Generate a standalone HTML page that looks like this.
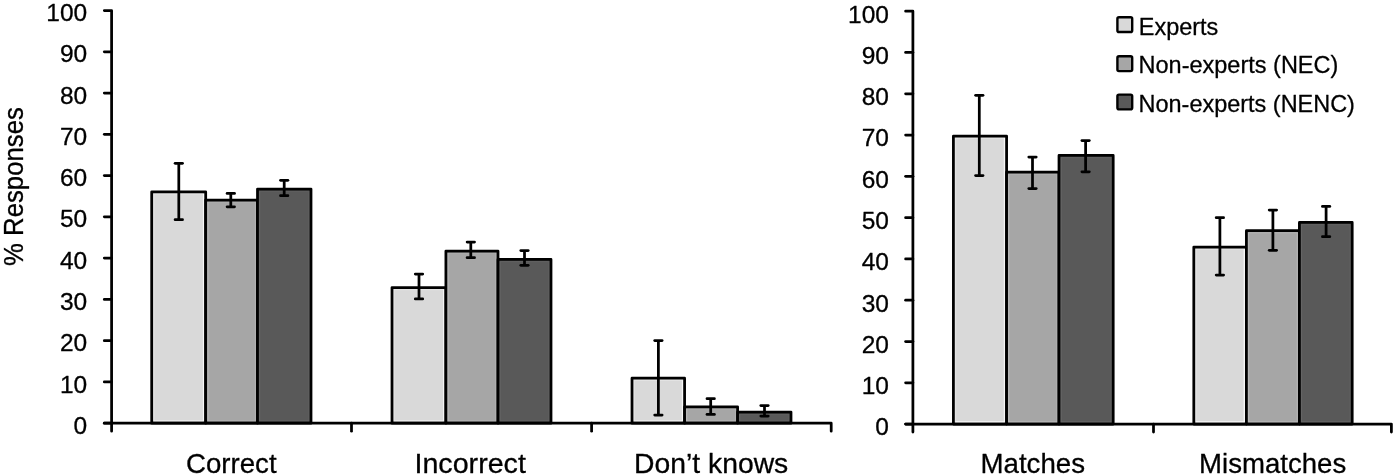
<!DOCTYPE html>
<html><head><meta charset="utf-8"><style>
html,body{margin:0;padding:0;background:#fff;}
svg{display:block;will-change:transform;filter:blur(0.45px);}
text{font-family:"Liberation Sans",sans-serif;fill:#000;stroke:#000;stroke-width:0.3px;stroke-linejoin:round;}
</style></head><body>
<svg width="1395" height="476" viewBox="0 0 1395 476">
<rect x="151.70" y="191.80" width="54.00" height="231.40" fill="#d9d9d9"/>
<line x1="153.77" y1="193.88" x2="203.62" y2="193.88" stroke="#e3e3e3" stroke-width="1.4"/>
<line x1="153.77" y1="193.88" x2="153.77" y2="421.12" stroke="#e3e3e3" stroke-width="1.4"/>
<line x1="203.62" y1="193.88" x2="203.62" y2="421.12" stroke="#f7f7f7" stroke-width="1.4"/>
<line x1="153.77" y1="421.12" x2="203.62" y2="421.12" stroke="#f7f7f7" stroke-width="1.4"/>
<rect x="151.70" y="191.80" width="54.00" height="231.40" fill="none" stroke="#000" stroke-width="2.75" stroke-linejoin="round"/>
<rect x="205.70" y="200.00" width="51.80" height="223.20" fill="#a6a6a6"/>
<line x1="207.77" y1="202.07" x2="255.43" y2="202.07" stroke="#adadad" stroke-width="1.4"/>
<line x1="207.77" y1="202.07" x2="207.77" y2="421.12" stroke="#b6b6b6" stroke-width="1.4"/>
<line x1="255.43" y1="202.07" x2="255.43" y2="421.12" stroke="#b0b0b0" stroke-width="1.4"/>
<line x1="207.77" y1="421.12" x2="255.43" y2="421.12" stroke="#b6b6b6" stroke-width="1.4"/>
<rect x="205.70" y="200.00" width="51.80" height="223.20" fill="none" stroke="#000" stroke-width="2.75" stroke-linejoin="round"/>
<rect x="257.50" y="189.00" width="53.50" height="234.20" fill="#595959"/>
<line x1="259.57" y1="191.07" x2="308.93" y2="191.07" stroke="#606060" stroke-width="1.4"/>
<line x1="259.57" y1="191.07" x2="259.57" y2="421.12" stroke="#646464" stroke-width="1.4"/>
<line x1="308.93" y1="191.07" x2="308.93" y2="421.12" stroke="#5f5f5f" stroke-width="1.4"/>
<line x1="259.57" y1="421.12" x2="308.93" y2="421.12" stroke="#666666" stroke-width="1.4"/>
<rect x="257.50" y="189.00" width="53.50" height="234.20" fill="none" stroke="#000" stroke-width="2.75" stroke-linejoin="round"/>
<line x1="178.80" y1="163.30" x2="178.80" y2="219.70" stroke="#000" stroke-width="2.75" stroke-linecap="butt"/>
<line x1="175.10" y1="163.30" x2="182.50" y2="163.30" stroke="#000" stroke-width="2.75" stroke-linecap="round"/>
<line x1="175.10" y1="219.70" x2="182.50" y2="219.70" stroke="#000" stroke-width="2.75" stroke-linecap="round"/>
<line x1="230.80" y1="193.40" x2="230.80" y2="206.80" stroke="#000" stroke-width="2.75" stroke-linecap="butt"/>
<line x1="227.10" y1="193.40" x2="234.50" y2="193.40" stroke="#000" stroke-width="2.75" stroke-linecap="round"/>
<line x1="227.10" y1="206.80" x2="234.50" y2="206.80" stroke="#000" stroke-width="2.75" stroke-linecap="round"/>
<line x1="284.20" y1="180.30" x2="284.20" y2="195.70" stroke="#000" stroke-width="2.75" stroke-linecap="butt"/>
<line x1="280.50" y1="180.30" x2="287.90" y2="180.30" stroke="#000" stroke-width="2.75" stroke-linecap="round"/>
<line x1="280.50" y1="195.70" x2="287.90" y2="195.70" stroke="#000" stroke-width="2.75" stroke-linecap="round"/>
<rect x="392.00" y="287.50" width="53.90" height="135.70" fill="#d9d9d9"/>
<line x1="394.07" y1="289.57" x2="443.82" y2="289.57" stroke="#e3e3e3" stroke-width="1.4"/>
<line x1="394.07" y1="289.57" x2="394.07" y2="421.12" stroke="#e3e3e3" stroke-width="1.4"/>
<line x1="443.82" y1="289.57" x2="443.82" y2="421.12" stroke="#f7f7f7" stroke-width="1.4"/>
<line x1="394.07" y1="421.12" x2="443.82" y2="421.12" stroke="#f7f7f7" stroke-width="1.4"/>
<rect x="392.00" y="287.50" width="53.90" height="135.70" fill="none" stroke="#000" stroke-width="2.75" stroke-linejoin="round"/>
<rect x="445.90" y="251.00" width="52.10" height="172.20" fill="#a6a6a6"/>
<line x1="447.97" y1="253.07" x2="495.93" y2="253.07" stroke="#adadad" stroke-width="1.4"/>
<line x1="447.97" y1="253.07" x2="447.97" y2="421.12" stroke="#b6b6b6" stroke-width="1.4"/>
<line x1="495.93" y1="253.07" x2="495.93" y2="421.12" stroke="#b0b0b0" stroke-width="1.4"/>
<line x1="447.97" y1="421.12" x2="495.93" y2="421.12" stroke="#b6b6b6" stroke-width="1.4"/>
<rect x="445.90" y="251.00" width="52.10" height="172.20" fill="none" stroke="#000" stroke-width="2.75" stroke-linejoin="round"/>
<rect x="498.00" y="259.40" width="53.00" height="163.80" fill="#595959"/>
<line x1="500.07" y1="261.47" x2="548.92" y2="261.47" stroke="#606060" stroke-width="1.4"/>
<line x1="500.07" y1="261.47" x2="500.07" y2="421.12" stroke="#646464" stroke-width="1.4"/>
<line x1="548.92" y1="261.47" x2="548.92" y2="421.12" stroke="#5f5f5f" stroke-width="1.4"/>
<line x1="500.07" y1="421.12" x2="548.92" y2="421.12" stroke="#666666" stroke-width="1.4"/>
<rect x="498.00" y="259.40" width="53.00" height="163.80" fill="none" stroke="#000" stroke-width="2.75" stroke-linejoin="round"/>
<line x1="419.00" y1="274.00" x2="419.00" y2="298.90" stroke="#000" stroke-width="2.75" stroke-linecap="butt"/>
<line x1="415.30" y1="274.00" x2="422.70" y2="274.00" stroke="#000" stroke-width="2.75" stroke-linecap="round"/>
<line x1="415.30" y1="298.90" x2="422.70" y2="298.90" stroke="#000" stroke-width="2.75" stroke-linecap="round"/>
<line x1="470.80" y1="242.10" x2="470.80" y2="257.70" stroke="#000" stroke-width="2.75" stroke-linecap="butt"/>
<line x1="467.10" y1="242.10" x2="474.50" y2="242.10" stroke="#000" stroke-width="2.75" stroke-linecap="round"/>
<line x1="467.10" y1="257.70" x2="474.50" y2="257.70" stroke="#000" stroke-width="2.75" stroke-linecap="round"/>
<line x1="524.50" y1="250.50" x2="524.50" y2="265.30" stroke="#000" stroke-width="2.75" stroke-linecap="butt"/>
<line x1="520.80" y1="250.50" x2="528.20" y2="250.50" stroke="#000" stroke-width="2.75" stroke-linecap="round"/>
<line x1="520.80" y1="265.30" x2="528.20" y2="265.30" stroke="#000" stroke-width="2.75" stroke-linecap="round"/>
<rect x="632.00" y="378.20" width="52.60" height="45.00" fill="#d9d9d9"/>
<line x1="634.08" y1="380.27" x2="682.52" y2="380.27" stroke="#e3e3e3" stroke-width="1.4"/>
<line x1="634.08" y1="380.27" x2="634.08" y2="421.12" stroke="#e3e3e3" stroke-width="1.4"/>
<line x1="682.52" y1="380.27" x2="682.52" y2="421.12" stroke="#f7f7f7" stroke-width="1.4"/>
<line x1="634.08" y1="421.12" x2="682.52" y2="421.12" stroke="#f7f7f7" stroke-width="1.4"/>
<rect x="632.00" y="378.20" width="52.60" height="45.00" fill="none" stroke="#000" stroke-width="2.75" stroke-linejoin="round"/>
<rect x="684.60" y="406.80" width="53.00" height="16.40" fill="#a6a6a6"/>
<line x1="686.68" y1="408.88" x2="735.52" y2="408.88" stroke="#adadad" stroke-width="1.4"/>
<line x1="686.68" y1="408.88" x2="686.68" y2="421.12" stroke="#b6b6b6" stroke-width="1.4"/>
<line x1="735.52" y1="408.88" x2="735.52" y2="421.12" stroke="#b0b0b0" stroke-width="1.4"/>
<line x1="686.68" y1="421.12" x2="735.52" y2="421.12" stroke="#b6b6b6" stroke-width="1.4"/>
<rect x="684.60" y="406.80" width="53.00" height="16.40" fill="none" stroke="#000" stroke-width="2.75" stroke-linejoin="round"/>
<rect x="737.60" y="412.00" width="53.40" height="11.20" fill="#595959"/>
<line x1="739.68" y1="414.07" x2="788.92" y2="414.07" stroke="#606060" stroke-width="1.4"/>
<line x1="739.68" y1="414.07" x2="739.68" y2="421.12" stroke="#646464" stroke-width="1.4"/>
<line x1="788.92" y1="414.07" x2="788.92" y2="421.12" stroke="#5f5f5f" stroke-width="1.4"/>
<line x1="739.68" y1="421.12" x2="788.92" y2="421.12" stroke="#666666" stroke-width="1.4"/>
<rect x="737.60" y="412.00" width="53.40" height="11.20" fill="none" stroke="#000" stroke-width="2.75" stroke-linejoin="round"/>
<line x1="658.40" y1="340.50" x2="658.40" y2="415.10" stroke="#000" stroke-width="2.75" stroke-linecap="butt"/>
<line x1="654.70" y1="340.50" x2="662.10" y2="340.50" stroke="#000" stroke-width="2.75" stroke-linecap="round"/>
<line x1="654.70" y1="415.10" x2="662.10" y2="415.10" stroke="#000" stroke-width="2.75" stroke-linecap="round"/>
<line x1="710.70" y1="398.70" x2="710.70" y2="414.40" stroke="#000" stroke-width="2.75" stroke-linecap="butt"/>
<line x1="707.00" y1="398.70" x2="714.40" y2="398.70" stroke="#000" stroke-width="2.75" stroke-linecap="round"/>
<line x1="707.00" y1="414.40" x2="714.40" y2="414.40" stroke="#000" stroke-width="2.75" stroke-linecap="round"/>
<line x1="764.50" y1="405.60" x2="764.50" y2="416.10" stroke="#000" stroke-width="2.75" stroke-linecap="butt"/>
<line x1="760.80" y1="405.60" x2="768.20" y2="405.60" stroke="#000" stroke-width="2.75" stroke-linecap="round"/>
<line x1="760.80" y1="416.10" x2="768.20" y2="416.10" stroke="#000" stroke-width="2.75" stroke-linecap="round"/>
<rect x="953.40" y="136.00" width="53.20" height="288.10" fill="#d9d9d9"/>
<line x1="955.48" y1="138.07" x2="1004.52" y2="138.07" stroke="#e3e3e3" stroke-width="1.4"/>
<line x1="955.48" y1="138.07" x2="955.48" y2="422.03" stroke="#e3e3e3" stroke-width="1.4"/>
<line x1="1004.52" y1="138.07" x2="1004.52" y2="422.03" stroke="#f7f7f7" stroke-width="1.4"/>
<line x1="955.48" y1="422.03" x2="1004.52" y2="422.03" stroke="#f7f7f7" stroke-width="1.4"/>
<rect x="953.40" y="136.00" width="53.20" height="288.10" fill="none" stroke="#000" stroke-width="2.75" stroke-linejoin="round"/>
<rect x="1006.60" y="172.20" width="52.40" height="251.90" fill="#a6a6a6"/>
<line x1="1008.68" y1="174.27" x2="1056.92" y2="174.27" stroke="#adadad" stroke-width="1.4"/>
<line x1="1008.68" y1="174.27" x2="1008.68" y2="422.03" stroke="#b6b6b6" stroke-width="1.4"/>
<line x1="1056.92" y1="174.27" x2="1056.92" y2="422.03" stroke="#b0b0b0" stroke-width="1.4"/>
<line x1="1008.68" y1="422.03" x2="1056.92" y2="422.03" stroke="#b6b6b6" stroke-width="1.4"/>
<rect x="1006.60" y="172.20" width="52.40" height="251.90" fill="none" stroke="#000" stroke-width="2.75" stroke-linejoin="round"/>
<rect x="1059.00" y="155.40" width="54.20" height="268.70" fill="#595959"/>
<line x1="1061.08" y1="157.47" x2="1111.12" y2="157.47" stroke="#606060" stroke-width="1.4"/>
<line x1="1061.08" y1="157.47" x2="1061.08" y2="422.03" stroke="#646464" stroke-width="1.4"/>
<line x1="1111.12" y1="157.47" x2="1111.12" y2="422.03" stroke="#5f5f5f" stroke-width="1.4"/>
<line x1="1061.08" y1="422.03" x2="1111.12" y2="422.03" stroke="#666666" stroke-width="1.4"/>
<rect x="1059.00" y="155.40" width="54.20" height="268.70" fill="none" stroke="#000" stroke-width="2.75" stroke-linejoin="round"/>
<line x1="979.30" y1="95.30" x2="979.30" y2="175.60" stroke="#000" stroke-width="2.75" stroke-linecap="butt"/>
<line x1="975.60" y1="95.30" x2="983.00" y2="95.30" stroke="#000" stroke-width="2.75" stroke-linecap="round"/>
<line x1="975.60" y1="175.60" x2="983.00" y2="175.60" stroke="#000" stroke-width="2.75" stroke-linecap="round"/>
<line x1="1032.50" y1="157.10" x2="1032.50" y2="188.50" stroke="#000" stroke-width="2.75" stroke-linecap="butt"/>
<line x1="1028.80" y1="157.10" x2="1036.20" y2="157.10" stroke="#000" stroke-width="2.75" stroke-linecap="round"/>
<line x1="1028.80" y1="188.50" x2="1036.20" y2="188.50" stroke="#000" stroke-width="2.75" stroke-linecap="round"/>
<line x1="1085.60" y1="140.50" x2="1085.60" y2="171.80" stroke="#000" stroke-width="2.75" stroke-linecap="butt"/>
<line x1="1081.90" y1="140.50" x2="1089.30" y2="140.50" stroke="#000" stroke-width="2.75" stroke-linecap="round"/>
<line x1="1081.90" y1="171.80" x2="1089.30" y2="171.80" stroke="#000" stroke-width="2.75" stroke-linecap="round"/>
<rect x="1193.80" y="247.00" width="52.60" height="177.10" fill="#d9d9d9"/>
<line x1="1195.88" y1="249.07" x2="1244.33" y2="249.07" stroke="#e3e3e3" stroke-width="1.4"/>
<line x1="1195.88" y1="249.07" x2="1195.88" y2="422.03" stroke="#e3e3e3" stroke-width="1.4"/>
<line x1="1244.33" y1="249.07" x2="1244.33" y2="422.03" stroke="#f7f7f7" stroke-width="1.4"/>
<line x1="1195.88" y1="422.03" x2="1244.33" y2="422.03" stroke="#f7f7f7" stroke-width="1.4"/>
<rect x="1193.80" y="247.00" width="52.60" height="177.10" fill="none" stroke="#000" stroke-width="2.75" stroke-linejoin="round"/>
<rect x="1246.40" y="230.70" width="53.00" height="193.40" fill="#a6a6a6"/>
<line x1="1248.48" y1="232.77" x2="1297.33" y2="232.77" stroke="#adadad" stroke-width="1.4"/>
<line x1="1248.48" y1="232.77" x2="1248.48" y2="422.03" stroke="#b6b6b6" stroke-width="1.4"/>
<line x1="1297.33" y1="232.77" x2="1297.33" y2="422.03" stroke="#b0b0b0" stroke-width="1.4"/>
<line x1="1248.48" y1="422.03" x2="1297.33" y2="422.03" stroke="#b6b6b6" stroke-width="1.4"/>
<rect x="1246.40" y="230.70" width="53.00" height="193.40" fill="none" stroke="#000" stroke-width="2.75" stroke-linejoin="round"/>
<rect x="1299.40" y="222.40" width="52.80" height="201.70" fill="#595959"/>
<line x1="1301.48" y1="224.47" x2="1350.12" y2="224.47" stroke="#606060" stroke-width="1.4"/>
<line x1="1301.48" y1="224.47" x2="1301.48" y2="422.03" stroke="#646464" stroke-width="1.4"/>
<line x1="1350.12" y1="224.47" x2="1350.12" y2="422.03" stroke="#5f5f5f" stroke-width="1.4"/>
<line x1="1301.48" y1="422.03" x2="1350.12" y2="422.03" stroke="#666666" stroke-width="1.4"/>
<rect x="1299.40" y="222.40" width="52.80" height="201.70" fill="none" stroke="#000" stroke-width="2.75" stroke-linejoin="round"/>
<line x1="1219.90" y1="217.70" x2="1219.90" y2="275.10" stroke="#000" stroke-width="2.75" stroke-linecap="butt"/>
<line x1="1216.20" y1="217.70" x2="1223.60" y2="217.70" stroke="#000" stroke-width="2.75" stroke-linecap="round"/>
<line x1="1216.20" y1="275.10" x2="1223.60" y2="275.10" stroke="#000" stroke-width="2.75" stroke-linecap="round"/>
<line x1="1272.90" y1="210.00" x2="1272.90" y2="250.30" stroke="#000" stroke-width="2.75" stroke-linecap="butt"/>
<line x1="1269.20" y1="210.00" x2="1276.60" y2="210.00" stroke="#000" stroke-width="2.75" stroke-linecap="round"/>
<line x1="1269.20" y1="250.30" x2="1276.60" y2="250.30" stroke="#000" stroke-width="2.75" stroke-linecap="round"/>
<line x1="1326.10" y1="206.40" x2="1326.10" y2="236.70" stroke="#000" stroke-width="2.75" stroke-linecap="butt"/>
<line x1="1322.40" y1="206.40" x2="1329.80" y2="206.40" stroke="#000" stroke-width="2.75" stroke-linecap="round"/>
<line x1="1322.40" y1="236.70" x2="1329.80" y2="236.70" stroke="#000" stroke-width="2.75" stroke-linecap="round"/>
<path d="M104.30 10.50 H111.60 V431.20" fill="none" stroke="#000" stroke-width="2.75" stroke-linejoin="round" stroke-linecap="round"/>
<line x1="104.30" y1="423.20" x2="111.60" y2="423.20" stroke="#000" stroke-width="2.75" stroke-linecap="round"/>
<line x1="104.30" y1="381.93" x2="111.60" y2="381.93" stroke="#000" stroke-width="2.75" stroke-linecap="round"/>
<line x1="104.30" y1="340.66" x2="111.60" y2="340.66" stroke="#000" stroke-width="2.75" stroke-linecap="round"/>
<line x1="104.30" y1="299.39" x2="111.60" y2="299.39" stroke="#000" stroke-width="2.75" stroke-linecap="round"/>
<line x1="104.30" y1="258.12" x2="111.60" y2="258.12" stroke="#000" stroke-width="2.75" stroke-linecap="round"/>
<line x1="104.30" y1="216.85" x2="111.60" y2="216.85" stroke="#000" stroke-width="2.75" stroke-linecap="round"/>
<line x1="104.30" y1="175.58" x2="111.60" y2="175.58" stroke="#000" stroke-width="2.75" stroke-linecap="round"/>
<line x1="104.30" y1="134.31" x2="111.60" y2="134.31" stroke="#000" stroke-width="2.75" stroke-linecap="round"/>
<line x1="104.30" y1="93.04" x2="111.60" y2="93.04" stroke="#000" stroke-width="2.75" stroke-linecap="round"/>
<line x1="104.30" y1="51.77" x2="111.60" y2="51.77" stroke="#000" stroke-width="2.75" stroke-linecap="round"/>
<path d="M104.30 423.20 H831.20 V431.20" fill="none" stroke="#000" stroke-width="2.75" stroke-linejoin="round" stroke-linecap="round"/>
<line x1="351.50" y1="423.20" x2="351.50" y2="431.20" stroke="#000" stroke-width="2.75" stroke-linecap="round"/>
<line x1="591.60" y1="423.20" x2="591.60" y2="431.20" stroke="#000" stroke-width="2.75" stroke-linecap="round"/>
<path d="M905.60 11.20 H912.90 V432.10" fill="none" stroke="#000" stroke-width="2.75" stroke-linejoin="round" stroke-linecap="round"/>
<line x1="905.60" y1="424.10" x2="912.90" y2="424.10" stroke="#000" stroke-width="2.75" stroke-linecap="round"/>
<line x1="905.60" y1="382.81" x2="912.90" y2="382.81" stroke="#000" stroke-width="2.75" stroke-linecap="round"/>
<line x1="905.60" y1="341.52" x2="912.90" y2="341.52" stroke="#000" stroke-width="2.75" stroke-linecap="round"/>
<line x1="905.60" y1="300.23" x2="912.90" y2="300.23" stroke="#000" stroke-width="2.75" stroke-linecap="round"/>
<line x1="905.60" y1="258.94" x2="912.90" y2="258.94" stroke="#000" stroke-width="2.75" stroke-linecap="round"/>
<line x1="905.60" y1="217.65" x2="912.90" y2="217.65" stroke="#000" stroke-width="2.75" stroke-linecap="round"/>
<line x1="905.60" y1="176.36" x2="912.90" y2="176.36" stroke="#000" stroke-width="2.75" stroke-linecap="round"/>
<line x1="905.60" y1="135.07" x2="912.90" y2="135.07" stroke="#000" stroke-width="2.75" stroke-linecap="round"/>
<line x1="905.60" y1="93.78" x2="912.90" y2="93.78" stroke="#000" stroke-width="2.75" stroke-linecap="round"/>
<line x1="905.60" y1="52.49" x2="912.90" y2="52.49" stroke="#000" stroke-width="2.75" stroke-linecap="round"/>
<path d="M905.60 424.10 H1391.40 V432.10" fill="none" stroke="#000" stroke-width="2.75" stroke-linejoin="round" stroke-linecap="round"/>
<line x1="1153.50" y1="424.10" x2="1153.50" y2="432.10" stroke="#000" stroke-width="2.75" stroke-linecap="round"/>
<text x="87.20" y="433.80" text-anchor="end" font-size="24.5" font-family="Liberation Sans, sans-serif">0</text>
<text x="87.20" y="392.53" text-anchor="end" font-size="24.5" font-family="Liberation Sans, sans-serif">10</text>
<text x="87.20" y="351.26" text-anchor="end" font-size="24.5" font-family="Liberation Sans, sans-serif">20</text>
<text x="87.20" y="309.99" text-anchor="end" font-size="24.5" font-family="Liberation Sans, sans-serif">30</text>
<text x="87.20" y="268.72" text-anchor="end" font-size="24.5" font-family="Liberation Sans, sans-serif">40</text>
<text x="87.20" y="227.45" text-anchor="end" font-size="24.5" font-family="Liberation Sans, sans-serif">50</text>
<text x="87.20" y="186.18" text-anchor="end" font-size="24.5" font-family="Liberation Sans, sans-serif">60</text>
<text x="87.20" y="144.91" text-anchor="end" font-size="24.5" font-family="Liberation Sans, sans-serif">70</text>
<text x="87.20" y="103.64" text-anchor="end" font-size="24.5" font-family="Liberation Sans, sans-serif">80</text>
<text x="87.20" y="62.37" text-anchor="end" font-size="24.5" font-family="Liberation Sans, sans-serif">90</text>
<text x="87.20" y="21.10" text-anchor="end" font-size="24.5" font-family="Liberation Sans, sans-serif">100</text>
<text x="889.00" y="435.40" text-anchor="end" font-size="24.5" font-family="Liberation Sans, sans-serif">0</text>
<text x="889.00" y="394.11" text-anchor="end" font-size="24.5" font-family="Liberation Sans, sans-serif">10</text>
<text x="889.00" y="352.82" text-anchor="end" font-size="24.5" font-family="Liberation Sans, sans-serif">20</text>
<text x="889.00" y="311.53" text-anchor="end" font-size="24.5" font-family="Liberation Sans, sans-serif">30</text>
<text x="889.00" y="270.24" text-anchor="end" font-size="24.5" font-family="Liberation Sans, sans-serif">40</text>
<text x="889.00" y="228.95" text-anchor="end" font-size="24.5" font-family="Liberation Sans, sans-serif">50</text>
<text x="889.00" y="187.66" text-anchor="end" font-size="24.5" font-family="Liberation Sans, sans-serif">60</text>
<text x="889.00" y="146.37" text-anchor="end" font-size="24.5" font-family="Liberation Sans, sans-serif">70</text>
<text x="889.00" y="105.08" text-anchor="end" font-size="24.5" font-family="Liberation Sans, sans-serif">80</text>
<text x="889.00" y="63.79" text-anchor="end" font-size="24.5" font-family="Liberation Sans, sans-serif">90</text>
<text x="889.00" y="22.50" text-anchor="end" font-size="24.5" font-family="Liberation Sans, sans-serif">100</text>
<text transform="translate(185.93,472.7) scale(0.9707,1)" font-size="28.5" font-family="Liberation Sans, sans-serif">Correct</text>
<text transform="translate(414.48,472.7) scale(1.0056,1)" font-size="28.5" font-family="Liberation Sans, sans-serif">Incorrect</text>
<text transform="translate(634.11,472.7) scale(0.9934,1)" font-size="28.5" font-family="Liberation Sans, sans-serif">Don’t knows</text>
<text transform="translate(980.46,472.7) scale(0.9714,1)" font-size="28.5" font-family="Liberation Sans, sans-serif">Matches</text>
<text transform="translate(1199.06,472.7) scale(0.9685,1)" font-size="28.5" font-family="Liberation Sans, sans-serif">Mismatches</text>
<text transform="translate(22.9,266.0) rotate(-90) scale(0.937,1)" font-size="27.5" font-family="Liberation Sans, sans-serif">% Responses</text>
<rect x="1117.4" y="17.20" width="14.8" height="14.8" rx="1.6" fill="#d9d9d9" stroke="#000" stroke-width="2.4"/>
<text transform="translate(1138.77,34.80) scale(0.9660,1)" font-size="24.3" font-family="Liberation Sans, sans-serif">Experts</text>
<rect x="1117.4" y="56.30" width="14.8" height="14.8" rx="1.6" fill="#a6a6a6" stroke="#000" stroke-width="2.4"/>
<text transform="translate(1138.57,73.20) scale(0.9675,1)" font-size="24.3" font-family="Liberation Sans, sans-serif">Non-experts (NEC)</text>
<rect x="1117.4" y="94.60" width="14.8" height="14.8" rx="1.6" fill="#595959" stroke="#000" stroke-width="2.4"/>
<text transform="translate(1138.57,111.60) scale(0.9656,1)" font-size="24.3" font-family="Liberation Sans, sans-serif">Non-experts (NENC)</text>
</svg>
</body></html>
